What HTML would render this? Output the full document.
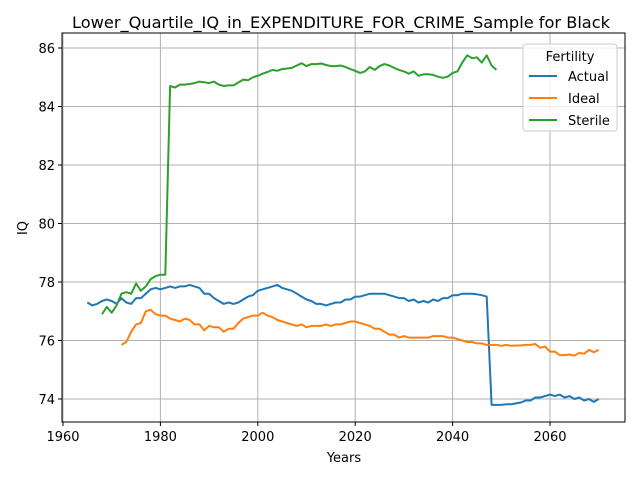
<!DOCTYPE html>
<html><head><meta charset="utf-8"><style>
body{margin:0;background:#fff;font-family:"Liberation Sans","DejaVu Sans",sans-serif}
svg text{font-family:"DejaVu Sans","Liberation Sans",sans-serif}
</style></head><body>
<svg id="chart" width="640" height="480" viewBox="0 0 640 480" xmlns="http://www.w3.org/2000/svg">
<rect width="640" height="480" fill="#fff"/>
<g id="grid"></g><g id="series"></g>
<rect x="62" y="33" width="563" height="389" fill="none" stroke="#000" stroke-width="1"/>
<g id="ticks"></g>
<text x="341" y="28" font-size="16.2" text-anchor="middle">Lower_Quartile_IQ_in_EXPENDITURE_FOR_CRIME_Sample for Black</text>
<text x="344" y="462" font-size="13" text-anchor="middle">Years</text>
<text x="27" y="228" font-size="13" text-anchor="middle" transform="rotate(-90 27 228)">IQ</text>
<g id="legend">
<rect x="523" y="44" width="94" height="87" rx="3" fill="#fff" fill-opacity="0.8" stroke="#ccc"/>
<text x="570" y="61" font-size="13" text-anchor="middle">Fertility</text>
</g>
</svg>
<script>
const xTicks=[1960,1980,2000,2020,2040,2060];
const yTicks=[74,76,78,80,82,84,86];
const seriesNames=["Actual","Ideal","Sterile"];
const seriesColors=["#1f77b4","#ff7f0e","#2ca02c"];
const actualStart=1965;
const actualVals=[77.3,77.2,77.25,77.35,77.4,77.35,77.25,77.45,77.3,77.25,77.45,77.45,77.6,77.75,77.8,77.75,77.8,77.85,77.8,77.85,77.85,77.9,77.85,77.8,77.6,77.6,77.45,77.35,77.25,77.3,77.25,77.3,77.4,77.5,77.55,77.7,77.75,77.8,77.85,77.9,77.8,77.75,77.7,77.6,77.5,77.4,77.35,77.25,77.25,77.2,77.25,77.3,77.3,77.4,77.4,77.5,77.5,77.55,77.6,77.6,77.6,77.6,77.55,77.5,77.45,77.45,77.35,77.4,77.3,77.35,77.3,77.4,77.35,77.45,77.45,77.55,77.55,77.6,77.6,77.6,77.58,77.55,77.5,73.8,73.8,73.8,73.82,73.82,73.85,73.88,73.95,73.95,74.05,74.05,74.1,74.15,74.1,74.15,74.05,74.1,74.0,74.05,73.95,74.0,73.9,74.0];
const idealStart=1972;
const idealVals=[75.85,75.95,76.3,76.55,76.6,77.0,77.05,76.9,76.85,76.85,76.75,76.7,76.65,76.75,76.7,76.55,76.55,76.35,76.5,76.45,76.45,76.3,76.4,76.4,76.6,76.75,76.8,76.85,76.85,76.95,76.85,76.8,76.7,76.65,76.6,76.55,76.5,76.55,76.45,76.5,76.5,76.5,76.55,76.5,76.55,76.55,76.6,76.65,76.65,76.6,76.55,76.5,76.4,76.4,76.3,76.2,76.2,76.1,76.15,76.1,76.1,76.1,76.1,76.1,76.15,76.15,76.15,76.1,76.1,76.05,76.0,75.95,75.95,75.9,75.9,75.85,75.85,75.85,75.82,75.85,75.82,75.83,75.83,75.85,75.85,75.88,75.75,75.8,75.62,75.62,75.5,75.5,75.52,75.48,75.58,75.55,75.68,75.6,75.68];
const sterileStart=1968;
const sterileVals=[76.9,77.15,76.95,77.2,77.6,77.65,77.6,77.95,77.7,77.85,78.1,78.2,78.25,78.25,84.7,84.65,84.75,84.75,84.77,84.8,84.85,84.83,84.8,84.85,84.75,84.7,84.72,84.72,84.82,84.92,84.9,85.0,85.05,85.12,85.18,85.25,85.22,85.28,85.3,85.32,85.4,85.48,85.38,85.45,85.45,85.47,85.42,85.38,85.38,85.4,85.35,85.28,85.22,85.15,85.2,85.35,85.25,85.38,85.45,85.4,85.32,85.25,85.2,85.12,85.2,85.05,85.1,85.1,85.08,85.02,84.98,85.02,85.15,85.2,85.5,85.75,85.65,85.68,85.5,85.75,85.4,85.25];
const NS="http://www.w3.org/2000/svg";
const X=y=>63+(y-1960)*4.87;
const Y=v=>399-(v-74)*29.25;
function mk(t,a,p){const e=document.createElementNS(NS,t);for(const k in a)e.setAttribute(k,a[k]);p.appendChild(e);return e;}
const grid=document.getElementById('grid'),ticks=document.getElementById('ticks'),ser=document.getElementById('series'),leg=document.getElementById('legend');
xTicks.forEach(t=>{const x=X(t);
 const g=mk('line',{x1:x,x2:x,y1:33,y2:422,stroke:'#b0b0b0','stroke-width':1},grid);
 
 
 mk('line',{x1:x,x2:x,y1:422,y2:426,stroke:'#000'},ticks);
 const l=mk('text',{x:x,y:441,'font-size':13,'text-anchor':'middle'},ticks);l.textContent=t;
 
 });
yTicks.forEach(t=>{const y=Y(t);
 const g=mk('line',{x1:62,x2:625,y1:y,y2:y,stroke:'#b0b0b0','stroke-width':1},grid);
 
 
 mk('line',{x1:58,x2:62,y1:y,y2:y,stroke:'#000'},ticks);
 const l=mk('text',{x:55,y:y+5,'font-size':13,'text-anchor':'end'},ticks);l.textContent=t;
 
 });
const all=[[actualStart,actualVals],[idealStart,idealVals],[sterileStart,sterileVals]];
all.forEach((s,i)=>{const pts=s[1].map((v,j)=>X(s[0]+j).toFixed(1)+','+Y(v).toFixed(1)).join(' ');
 const p=mk('polyline',{points:pts,fill:'none',stroke:seriesColors[i],'stroke-width':2,'stroke-linejoin':'round'},ser);
 
 
 const ly=76+i*22;
 const ll=mk('line',{x1:529,x2:557,y1:ly,y2:ly,stroke:seriesColors[i],'stroke-width':2},leg);
 
 
 const lt=mk('text',{x:568,y:ly+5,'font-size':13},leg);lt.textContent=seriesNames[i];
 
 });
</script>
</body></html>
